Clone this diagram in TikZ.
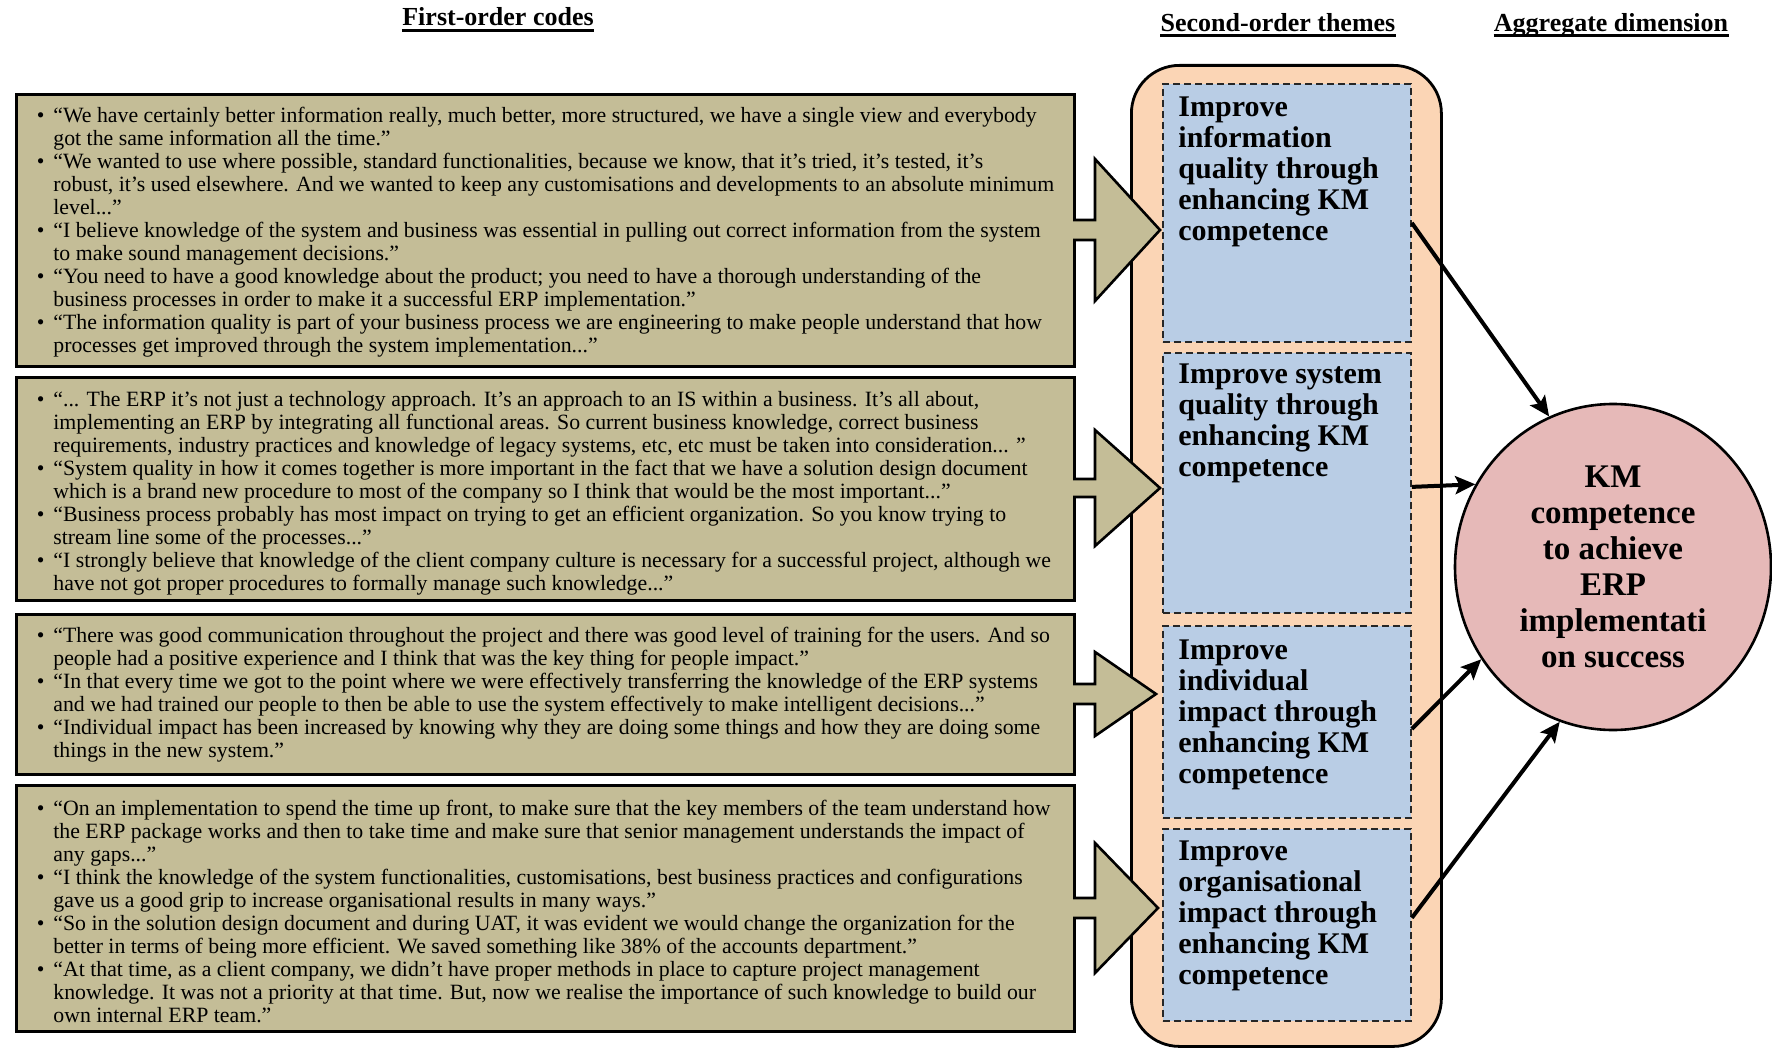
\documentclass[tikz,border=0pt]{standalone}
\usepackage{fontspec}
\setmainfont{Liberation Serif}
\usepackage{graphicx}
\usetikzlibrary{shapes.geometric,arrows.meta}

\definecolor{codefill}{HTML}{C4BD97}
\definecolor{groupfill}{HTML}{FBD5B5}
\definecolor{themefill}{HTML}{B9CDE5}
\definecolor{dimfill}{HTML}{E6B9B8}

% one quoted line, squeezed only if it is wider than the box allows
\newsavebox\qlinebox
\newlength\qmaxw
\setlength\qmaxw{505pt}
\newcommand\ql[1]{\sbox\qlinebox{#1}\ifdim\wd\qlinebox>\qmaxw\resizebox{\qmaxw}{\height}{\usebox\qlinebox}\else\usebox\qlinebox\fi}
\newcommand\bul{\makebox[0pt][r]{\textbullet\hspace{4.5pt}}}

% fat arrow from a code box into a theme box
% #1 centre y, #2 half shaft, #3 half head, #4 head base x, #5 tip x
\newcommand\blockarrow[5]{%
  \fill[codefill] (1066,#1-#2) -- (#4,#1-#2) -- (#4,#1-#3) -- (#5,#1) -- (#4,#1+#3) -- (#4,#1+#2) -- (1066,#1+#2) -- cycle;
  \draw[blockedge] (1073,#1-#2) -- (#4,#1-#2) -- (#4,#1-#3) -- (#5,#1) -- (#4,#1+#3) -- (#4,#1+#2) -- (1073,#1+#2);}

\begin{document}
\begin{tikzpicture}[x=0.5pt,y=-0.5pt,
  codebox/.style={draw=black, line width=1.5pt, fill=codefill, anchor=north west, inner sep=0pt, minimum width=529pt},
  codetext/.style={anchor=north west, inner sep=0pt, align=left, font=\fontsize{10.9}{11.5}\selectfont},
  group/.style={draw=black, line width=1.4pt, fill=groupfill, rounded corners=24pt, anchor=north west, inner sep=0pt},
  theme/.style={draw=black!85, line width=0.9pt, dash pattern=on 3.5pt off 2pt, fill=themefill, anchor=north west, inner sep=0pt, minimum width=124pt},
  themetext/.style={anchor=north west, inner sep=0pt, align=left, font=\fontsize{15}{15.5}\selectfont\bfseries},
  dim/.style={ellipse, draw=black, line width=1.3pt, fill=dimfill, minimum width=158pt, minimum height=163pt, inner sep=0pt, align=center, font=\fontsize{16.5}{18}\selectfont\bfseries},
  link/.style={line width=2pt, -{Stealth[length=10pt,width=9pt,inset=2pt]}},
  blockedge/.style={draw=black, line width=1.3pt, line join=miter},
  title/.style={anchor=base, inner sep=0pt, font=\fontsize{13}{15}\selectfont\bfseries},
  uline/.style={line width=1.4pt}
]
\useasboundingbox (0,0) rectangle (1772,1048);

% column headings
\node[title] (h1) at (498,26) {First-order codes};
\node[title] (h2) at (1278,31.5) {Second-order themes};
\node[title] (h3) at (1611,31.5) {Aggregate dimension};
\foreach \h in {h1,h2,h3}
  \draw[uline] ([yshift=-2.2pt]\h.base west) -- ([yshift=-2.2pt]\h.base east);

% first-order codes
\node[codebox, minimum height=136pt] (g1) at (15,93) {};
\node[codebox, minimum height=111.5pt] (g2) at (15,376) {};
\node[codebox, minimum height=80pt] (g3) at (15,613) {};
\node[codebox, minimum height=123pt] (g4) at (15,784) {};

\node[codetext] (q1) at (53,107) {%
\bul\ql{“We have certainly better information really, much better, more structured, we have a single view and everybody}\\
\ql{got the same information all the time.”}\\
\bul\ql{“We wanted to use where possible, standard functionalities, because we know, that it’s tried, it’s tested, it’s}\\
\ql{robust, it’s used elsewhere. And we wanted to keep any customisations and developments to an absolute minimum}\\
\ql{level...”}\\
\bul\ql{“I believe knowledge of the system and business was essential in pulling out correct information from the system}\\
\ql{to make sound management decisions.”}\\
\bul\ql{“You need to have a good knowledge about the product; you need to have a thorough understanding of the}\\
\ql{business processes in order to make it a successful ERP implementation.”}\\
\bul\ql{“The information quality is part of your business process we are engineering to make people understand that how}\\
\ql{processes get improved through the system implementation...”}};

\node[codetext] (q2) at (53,391) {%
\bul\ql{“... The ERP it’s not just a technology approach. It’s an approach to an IS within a business. It’s all about,}\\
\ql{implementing an ERP by integrating all functional areas. So current business knowledge, correct business}\\
\ql{requirements, industry practices and knowledge of legacy systems, etc, etc must be taken into consideration... ”}\\
\bul\ql{“System quality in how it comes together is more important in the fact that we have a solution design document}\\
\ql{which is a brand new procedure to most of the company so I think that would be the most important...”}\\
\bul\ql{“Business process probably has most impact on trying to get an efficient organization. So you know trying to}\\
\ql{stream line some of the processes...”}\\
\bul\ql{“I strongly believe that knowledge of the client company culture is necessary for a successful project, although we}\\
\ql{have not got proper procedures to formally manage such knowledge...”}};

\node[codetext] (q3) at (53,627) {%
\bul\ql{“There was good communication throughout the project and there was good level of training for the users. And so}\\
\ql{people had a positive experience and I think that was the key thing for people impact.”}\\
\bul\ql{“In that every time we got to the point where we were effectively transferring the knowledge of the ERP systems}\\
\ql{and we had trained our people to then be able to use the system effectively to make intelligent decisions...”}\\
\bul\ql{“Individual impact has been increased by knowing why they are doing some things and how they are doing some}\\
\ql{things in the new system.”}};

\node[codetext] (q4) at (53,800) {%
\bul\ql{“On an implementation to spend the time up front, to make sure that the key members of the team understand how}\\
\ql{the ERP package works and then to take time and make sure that senior management understands the impact of}\\
\ql{any gaps...”}\\
\bul\ql{“I think the knowledge of the system functionalities, customisations, best business practices and configurations}\\
\ql{gave us a good grip to increase organisational results in many ways.”}\\
\bul\ql{“So in the solution design document and during UAT, it was evident we would change the organization for the}\\
\ql{better in terms of being more efficient. We saved something like 38\% of the accounts department.”}\\
\bul\ql{“At that time, as a client company, we didn’t have proper methods in place to capture project management}\\
\ql{knowledge. It was not a priority at that time. But, now we realise the importance of such knowledge to build our}\\
\ql{own internal ERP team.”}};

% second-order themes
\node[group, minimum width=155pt, minimum height=490.5pt] (grp) at (1130,64) {};
\node[theme, minimum height=129pt] (t1) at (1162,83) {};
\node[theme, minimum height=130pt] (t2) at (1162,352) {};
\node[theme, minimum height=96pt] (t3) at (1162,625) {};
\node[theme, minimum height=96pt] (t4) at (1162,828) {};
\node[themetext] (l1) at (1178,96) {Improve\\information\\quality through\\enhancing KM\\competence};
\node[themetext] (l2) at (1178,363) {Improve system\\quality through\\enhancing KM\\competence};
\node[themetext] (l3) at (1178,639) {Improve\\individual\\impact through\\enhancing KM\\competence};
\node[themetext] (l4) at (1178,840) {Improve\\organisational\\impact through\\enhancing KM\\competence};

% codes feed the themes
\blockarrow{230}{10}{71}{1095}{1160}
\blockarrow{488}{9}{58}{1095}{1160}
\blockarrow{694}{10}{42}{1095}{1156}
\blockarrow{908}{10}{65}{1095}{1158}

% aggregate dimension
\node[dim] (agg) at (1613,567) {KM\\competence\\to achieve\\ERP\\implementati\\on success};

\draw[link] ([yshift=-5pt]t1.east) -- (agg.113);
\draw[link] ([yshift=-2pt]t2.east) -- (agg.149);
\draw[link] ([yshift=-3.5pt]t3.east) -- (agg.215);
\draw[link] ([yshift=3.5pt]t4.east) -- (agg.251);
\end{tikzpicture}
\end{document}
